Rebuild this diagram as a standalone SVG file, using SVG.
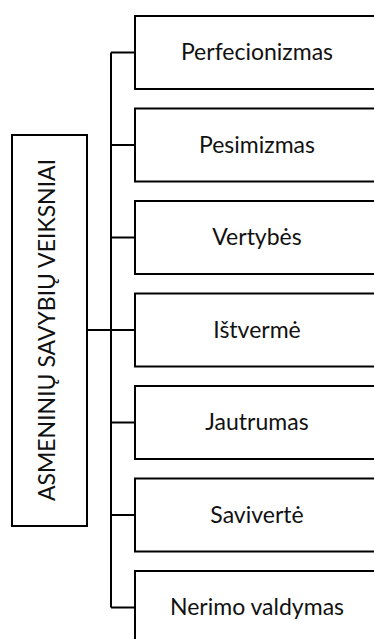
<svg xmlns="http://www.w3.org/2000/svg" width="374" height="639" viewBox="0 0 374 639">
<style>
.box{fill:#fff;stroke:#000;stroke-width:2}
.lbl{font-family:Lato,"Open Sans","Liberation Sans",sans-serif;font-size:23px;fill:#111;text-anchor:middle}
.con{fill:none;stroke:#000;stroke-width:2}
</style>
<rect width="374" height="639" fill="#fff"/>
<g id="connectors">
<path class="con" d="M111 52.5V607.5M87 330H111M111 52.5H135M111 145H135M111 237.5H135M111 330H135M111 422.5H135M111 515H135M111 607.5H135"/>
</g>
<g id="root">
<rect class="box" x="12" y="135" width="75" height="391"/>
<text class="lbl" font-size="20" transform="translate(55,330) rotate(-90)">ASMENINIŲ SAVYBIŲ VEIKSNIAI</text>
</g>
<g id="n1"><rect class="box" x="135" y="16" width="250" height="73"/><text class="lbl" x="257" y="60">Perfecionizmas</text></g>
<g id="n2"><rect class="box" x="135" y="108.5" width="250" height="73"/><text class="lbl" x="257" y="152.5">Pesimizmas</text></g>
<g id="n3"><rect class="box" x="135" y="201" width="250" height="73"/><text class="lbl" x="257" y="245">Vertybės</text></g>
<g id="n4"><rect class="box" x="135" y="293.5" width="250" height="73"/><text class="lbl" x="257" y="337.5">Ištvermė</text></g>
<g id="n5"><rect class="box" x="135" y="386" width="250" height="73"/><text class="lbl" x="257" y="430">Jautrumas</text></g>
<g id="n6"><rect class="box" x="135" y="478.5" width="250" height="73"/><text class="lbl" x="257" y="522.5">Savivertė</text></g>
<g id="n7"><rect class="box" x="135" y="571" width="250" height="73"/><text class="lbl" x="257" y="615">Nerimo valdymas</text></g>
</svg>
